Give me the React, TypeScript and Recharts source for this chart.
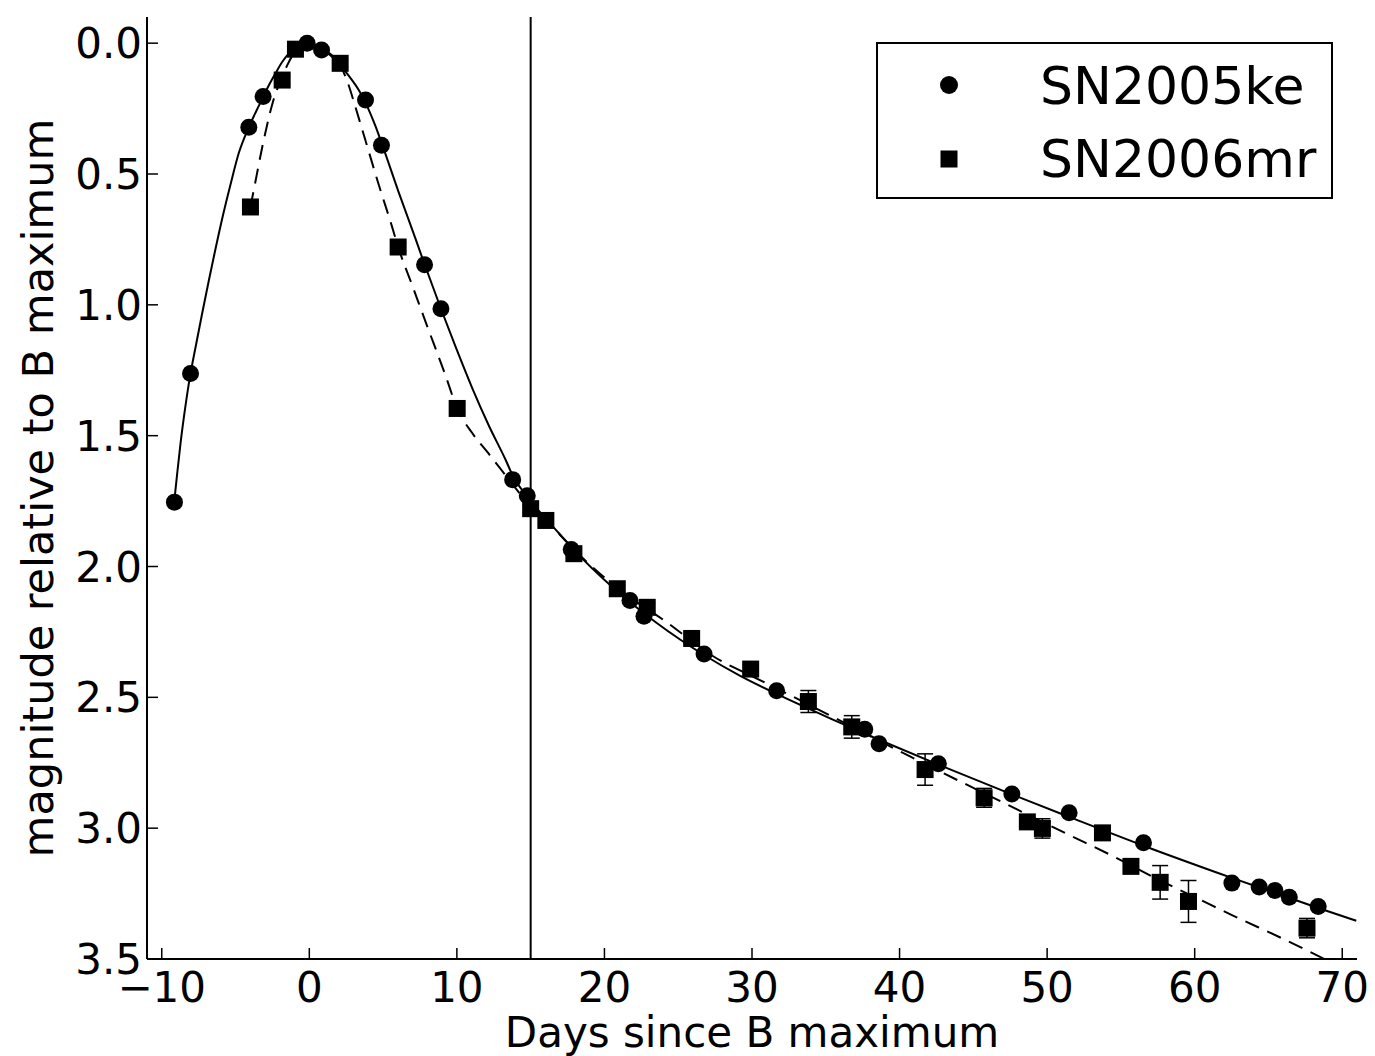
import React from 'react';
import { ComposedChart, Scatter, Line, XAxis, YAxis, ReferenceLine, ErrorBar } from 'recharts';

// axis ticks
const dayTicks = [-10, 0, 10, 20, 30, 40, 50, 60, 70];
const magTicks = [0, 0.5, 1, 1.5, 2, 2.5, 3, 3.5];

// SN2005ke photometry (circles)
const keDays = [-9.14, -8.05, -4.1, -3.13, -0.15, 0.83, 3.81, 4.89, 7.81, 8.92, 13.78, 14.77, 17.75, 21.73, 22.68, 26.75, 31.67, 37.64, 38.61, 42.63, 47.61, 51.49, 56.53, 62.52, 64.37, 65.44, 66.41, 68.37];
const keMags = [1.754, 1.262, 0.321, 0.204, 0.0, 0.026, 0.217, 0.39, 0.847, 1.015, 1.668, 1.73, 1.935, 2.13, 2.19, 2.334, 2.475, 2.622, 2.677, 2.754, 2.869, 2.941, 3.056, 3.21, 3.225, 3.238, 3.264, 3.299];

// SN2006mr photometry (squares) with errors
const mrDays = [-3.99, -1.84, -0.94, 2.09, 6.02, 10.02, 15.0, 16.03, 17.93, 20.87, 22.9, 25.91, 29.91, 33.82, 36.76, 41.73, 45.73, 48.66, 49.68, 53.75, 55.68, 57.66, 59.58, 67.61];
const mrMags = [0.626, 0.141, 0.023, 0.077, 0.779, 1.396, 1.779, 1.824, 1.951, 2.085, 2.156, 2.275, 2.392, 2.516, 2.613, 2.776, 2.884, 2.976, 3.001, 3.018, 3.146, 3.207, 3.28, 3.382];
const mrErrs = [0.015, 0.015, 0.015, 0.015, 0.015, 0.015, 0.015, 0.015, 0.015, 0.015, 0.015, 0.015, 0.015, 0.042, 0.043, 0.06, 0.036, 0.015, 0.037, 0.015, 0.015, 0.064, 0.08, 0.037];

// template fits
const keFitDays = [-9.12, -8.96, -8.73, -8.39, -8.05, -7.72, -7.27, -6.82, -6.41, -5.91, -5.34, -4.78, -4.1, -3.6, -3.13, -2.75, -2.29, -1.84, -1.4, -0.94, -0.5, -0.15, 0.3, 0.83, 1.5, 2.0, 2.68, 3.36, 3.81, 4.49, 4.89, 6.07, 7.2, 7.81, 8.92, 9.91, 11.04, 12.17, 13.3, 13.78, 14.77, 16.92, 17.82, 20.76, 23.5, 26.86, 29.2, 31.67, 35.44, 38.61, 42.63, 47.61, 51.49, 56.53, 62.52, 68.37, 70.95];
const keFitMags = [1.734, 1.648, 1.53, 1.385, 1.262, 1.165, 1.035, 0.91, 0.8, 0.672, 0.54, 0.42, 0.321, 0.26, 0.206, 0.162, 0.115, 0.072, 0.04, 0.016, 0.003, 0.0, 0.006, 0.022, 0.05, 0.078, 0.125, 0.18, 0.228, 0.318, 0.38, 0.572, 0.748, 0.845, 1.015, 1.16, 1.318, 1.462, 1.592, 1.652, 1.733, 1.873, 1.93, 2.09, 2.214, 2.342, 2.418, 2.487, 2.584, 2.662, 2.757, 2.871, 2.957, 3.067, 3.19, 3.305, 3.354];

const mrFitDays = [-3.99, -3.76, -3.08, -2.52, -1.84, -1.51, -0.94, -0.37, 0.1, 0.98, 1.6, 2.09, 2.6, 3.13, 3.69, 4.7, 5.6, 6.02, 6.97, 7.88, 9.23, 10.02, 11.04, 12.17, 13.3, 14.2, 15.0, 16.03, 18.95, 20.87, 24.15, 27.31, 30.5, 33.82, 36.76, 40.64, 44.49, 48.56, 51.27, 54.43, 57.59, 60.31, 62.56, 66.18, 68.9];
const mrFitMags = [0.626, 0.56, 0.368, 0.235, 0.128, 0.086, 0.03, 0.004, 0.0, 0.025, 0.05, 0.083, 0.15, 0.245, 0.35, 0.54, 0.7, 0.779, 0.925, 1.065, 1.27, 1.396, 1.49, 1.57, 1.652, 1.717, 1.773, 1.826, 1.99, 2.083, 2.21, 2.341, 2.433, 2.527, 2.612, 2.724, 2.832, 2.945, 3.02, 3.106, 3.198, 3.272, 3.333, 3.428, 3.503];

const keData = keDays.map((d, i) => ({ day: d, mag: keMags[i] }));
const mrData = mrDays.map((d, i) => ({ day: d, mag: mrMags[i], err: mrErrs[i] }));
const keFit = keFitDays.map((d, i) => ({ day: d, mag: keFitMags[i] }));
const mrFit = mrFitDays.map((d, i) => ({ day: d, mag: mrFitMags[i] }));

const FONT = '"DejaVu Sans", "Liberation Sans", sans-serif';
const TICK_LEN = 11;
const frame = { stroke: '#000', strokeWidth: 2 };

const fmtDay = (v: number) => (v < 0 ? `\u2212${Math.abs(v)}` : `${v}`);

// matplotlib style inward ticks
const BottomTick = ({ x, y, payload }: any) => (
  <g>
    <line x1={x} y1={y} x2={x} y2={y - TICK_LEN} stroke="#000" strokeWidth={1.5} />
    <text x={x} y={y + 43} textAnchor="middle" fontSize={42} fill="#000">
      {fmtDay(payload.value)}
    </text>
  </g>
);
const TopTick = ({ x, y }: any) => (
  <line x1={x} y1={y} x2={x} y2={y + TICK_LEN} stroke="#000" strokeWidth={1.5} />
);
const LeftTick = ({ x, y, payload }: any) => (
  <g>
    <line x1={x} y1={y} x2={x + TICK_LEN} y2={y} stroke="#000" strokeWidth={1.5} />
    <text x={x - 5} y={y} dy="0.36em" textAnchor="end" fontSize={42} fill="#000">
      {payload.value.toFixed(1)}
    </text>
  </g>
);
const RightTick = ({ x, y }: any) => (
  <line x1={x} y1={y} x2={x - TICK_LEN} y2={y} stroke="#000" strokeWidth={1.5} />
);

const XTitle = ({ viewBox }: any) => (
  <text x={viewBox.x + viewBox.width / 2} y={viewBox.y + 88} textAnchor="middle" fontSize={42} fill="#000">
    Days since B maximum
  </text>
);
const YTitle = ({ viewBox }: any) => {
  const cx = viewBox.x + 45;
  const cy = viewBox.y + viewBox.height / 2;
  return (
    <text x={cx} y={cy} transform={`rotate(-90, ${cx}, ${cy})`} textAnchor="middle" fontSize={43} fill="#000">
      magnitude relative to B maximum
    </text>
  );
};

const CircleDot = ({ cx, cy }: any) => <circle cx={cx} cy={cy} r={8.5} fill="#000" />;
const SquareDot = ({ cx, cy }: any) => <rect x={cx - 8.5} y={cy - 8.5} width={17} height={17} fill="#000" />;

const LegendBox = () => (
  <svg width={457} height={157} style={{ position: 'absolute', left: 868, top: 34 }}>
    <rect x={1} y={1} width={455} height={155} fill="#fff" stroke="#000" strokeWidth={2} />
    <circle cx={73} cy={43} r={9} fill="#000" />
    <rect x={64.5} y={108.5} width={17} height={17} fill="#000" />
    <text x={164} y={62} fontSize={52} fill="#000" style={{ fontFamily: FONT }}>SN2005ke</text>
    <text x={164} y={135} fontSize={52} fill="#000" style={{ fontFamily: FONT }}>SN2006mr</text>
  </svg>
);

export default function App() {
  return (
    <div style={{ position: 'relative', width: 1367, height: 1048, fontFamily: FONT, background: '#fff' }}>
      <ComposedChart width={1367} height={1048} margin={{ top: 9, right: 18, bottom: 0, left: 0 }}>
        <XAxis
          dataKey="day"
          type="number"
          domain={[-11, 71]}
          ticks={dayTicks}
          interval={0}
          allowDataOverflow
          height={97}
          tickSize={0}
          tickMargin={0}
          tickLine={false}
          axisLine={frame}
          tick={<BottomTick />}
          label={{ content: (p: any) => <XTitle {...p} /> }}
        />
        <XAxis
          xAxisId="top"
          orientation="top"
          dataKey="day"
          type="number"
          domain={[-11, 71]}
          ticks={dayTicks}
          interval={0}
          allowDataOverflow
          height={0}
          tickSize={0}
          tickMargin={0}
          tickLine={false}
          axisLine={frame}
          tick={<TopTick />}
        />
        <YAxis
          type="number"
          domain={[-0.1, 3.5]}
          reversed
          ticks={magTicks}
          interval={0}
          allowDataOverflow
          width={139}
          tickSize={0}
          tickMargin={0}
          tickLine={false}
          axisLine={frame}
          tick={<LeftTick />}
          label={{ content: (p: any) => <YTitle {...p} /> }}
        />
        <YAxis
          yAxisId="right"
          orientation="right"
          type="number"
          domain={[-0.1, 3.5]}
          reversed
          ticks={magTicks}
          interval={0}
          allowDataOverflow
          width={0}
          tickSize={0}
          tickMargin={0}
          tickLine={false}
          axisLine={frame}
          tick={<RightTick />}
        />
        <ReferenceLine x={15} stroke="#000" strokeWidth={2} />
        <Line
          data={keFit}
          dataKey="mag"
          type="monotone"
          stroke="#000"
          strokeWidth={2}
          dot={false}
          activeDot={false}
          isAnimationActive={false}
        />
        <Line
          data={mrFit}
          dataKey="mag"
          type="monotone"
          stroke="#000"
          strokeWidth={2}
          strokeDasharray="15 9"
          dot={false}
          activeDot={false}
          isAnimationActive={false}
        />
        <Scatter data={keData} dataKey="mag" shape={<CircleDot />} isAnimationActive={false} />
        <Scatter data={mrData} dataKey="mag" shape={<SquareDot />} isAnimationActive={false}>
          <ErrorBar dataKey="err" direction="y" width={8} stroke="#000" strokeWidth={1.5} />
        </Scatter>
      </ComposedChart>
      <LegendBox />
    </div>
  );
}
